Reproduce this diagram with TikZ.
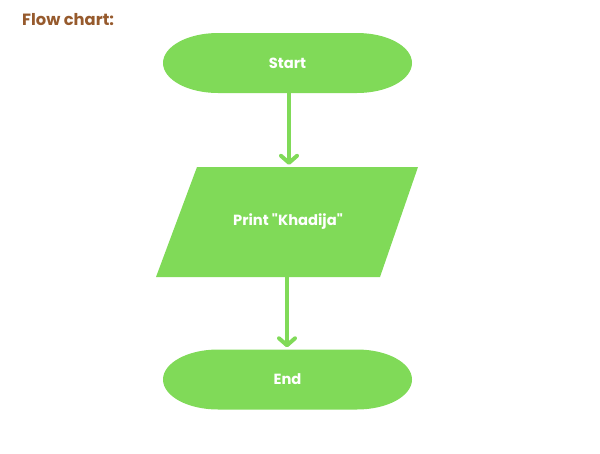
\documentclass[tikz,border=0pt]{standalone}
\usepackage{fontspec}
\setmainfont{Poppins}[BoldFont={Poppins Bold}]
\usetikzlibrary{arrows.meta}
\definecolor{flowgreen}{RGB}{128,218,88}
\definecolor{titlebrown}{RGB}{150,90,45}
\tikzset{
  shapefill/.style={fill=flowgreen, draw=none},
  label text/.style={text=white, font=\bfseries\fontsize{14.7}{17}\selectfont, inner sep=0pt},
  terminal/.style={label text, minimum width=249pt, minimum height=60pt},
  iobox/.style={label text, minimum width=225pt, minimum height=110pt},
  flowarrow/.style={draw=flowgreen, line width=4pt, line cap=round, -{Straight Barb[length=7pt, width=16pt, line cap=round, line join=round]}},
}
\begin{document}
\begin{tikzpicture}[x=1pt, y=-1pt]
\useasboundingbox (0,0) rectangle (600,453);
% shapes
\path[shapefill] (218,33) -- (357,33) arc[start angle=-90, end angle=90, x radius=55, y radius=30]
  -- (218,93) arc[start angle=90, end angle=270, x radius=55, y radius=30] -- cycle;
\path[shapefill] (197,167) -- (418,167) -- (380,277) -- (156,277) -- cycle;
\path[shapefill] (218,349.5) -- (357,349.5) arc[start angle=-90, end angle=90, x radius=55, y radius=30]
  -- (218,409.5) arc[start angle=90, end angle=270, x radius=55, y radius=30] -- cycle;
% nodes
\node[anchor=west, text=titlebrown, font=\bfseries\fontsize{16.3}{19}\selectfont, inner sep=0pt] (title) at (22,20) {Flow chart:};
\node[terminal] (start) at (287.5,63) {Start};
\node[iobox] (print) at (288,222) {Print \textquotedbl Khadija\textquotedbl};
\node[terminal] (end) at (287.5,379.5) {End};
% connectors
\draw[flowarrow, shorten >=2pt] ([xshift=1.5pt]start.south) -- ([xshift=1.5pt]start.south |- print.north);
\draw[flowarrow, shorten >=2pt] ([xshift=-1pt]print.south) -- ([xshift=-1pt]print.south |- end.north);
\end{tikzpicture}
\end{document}
